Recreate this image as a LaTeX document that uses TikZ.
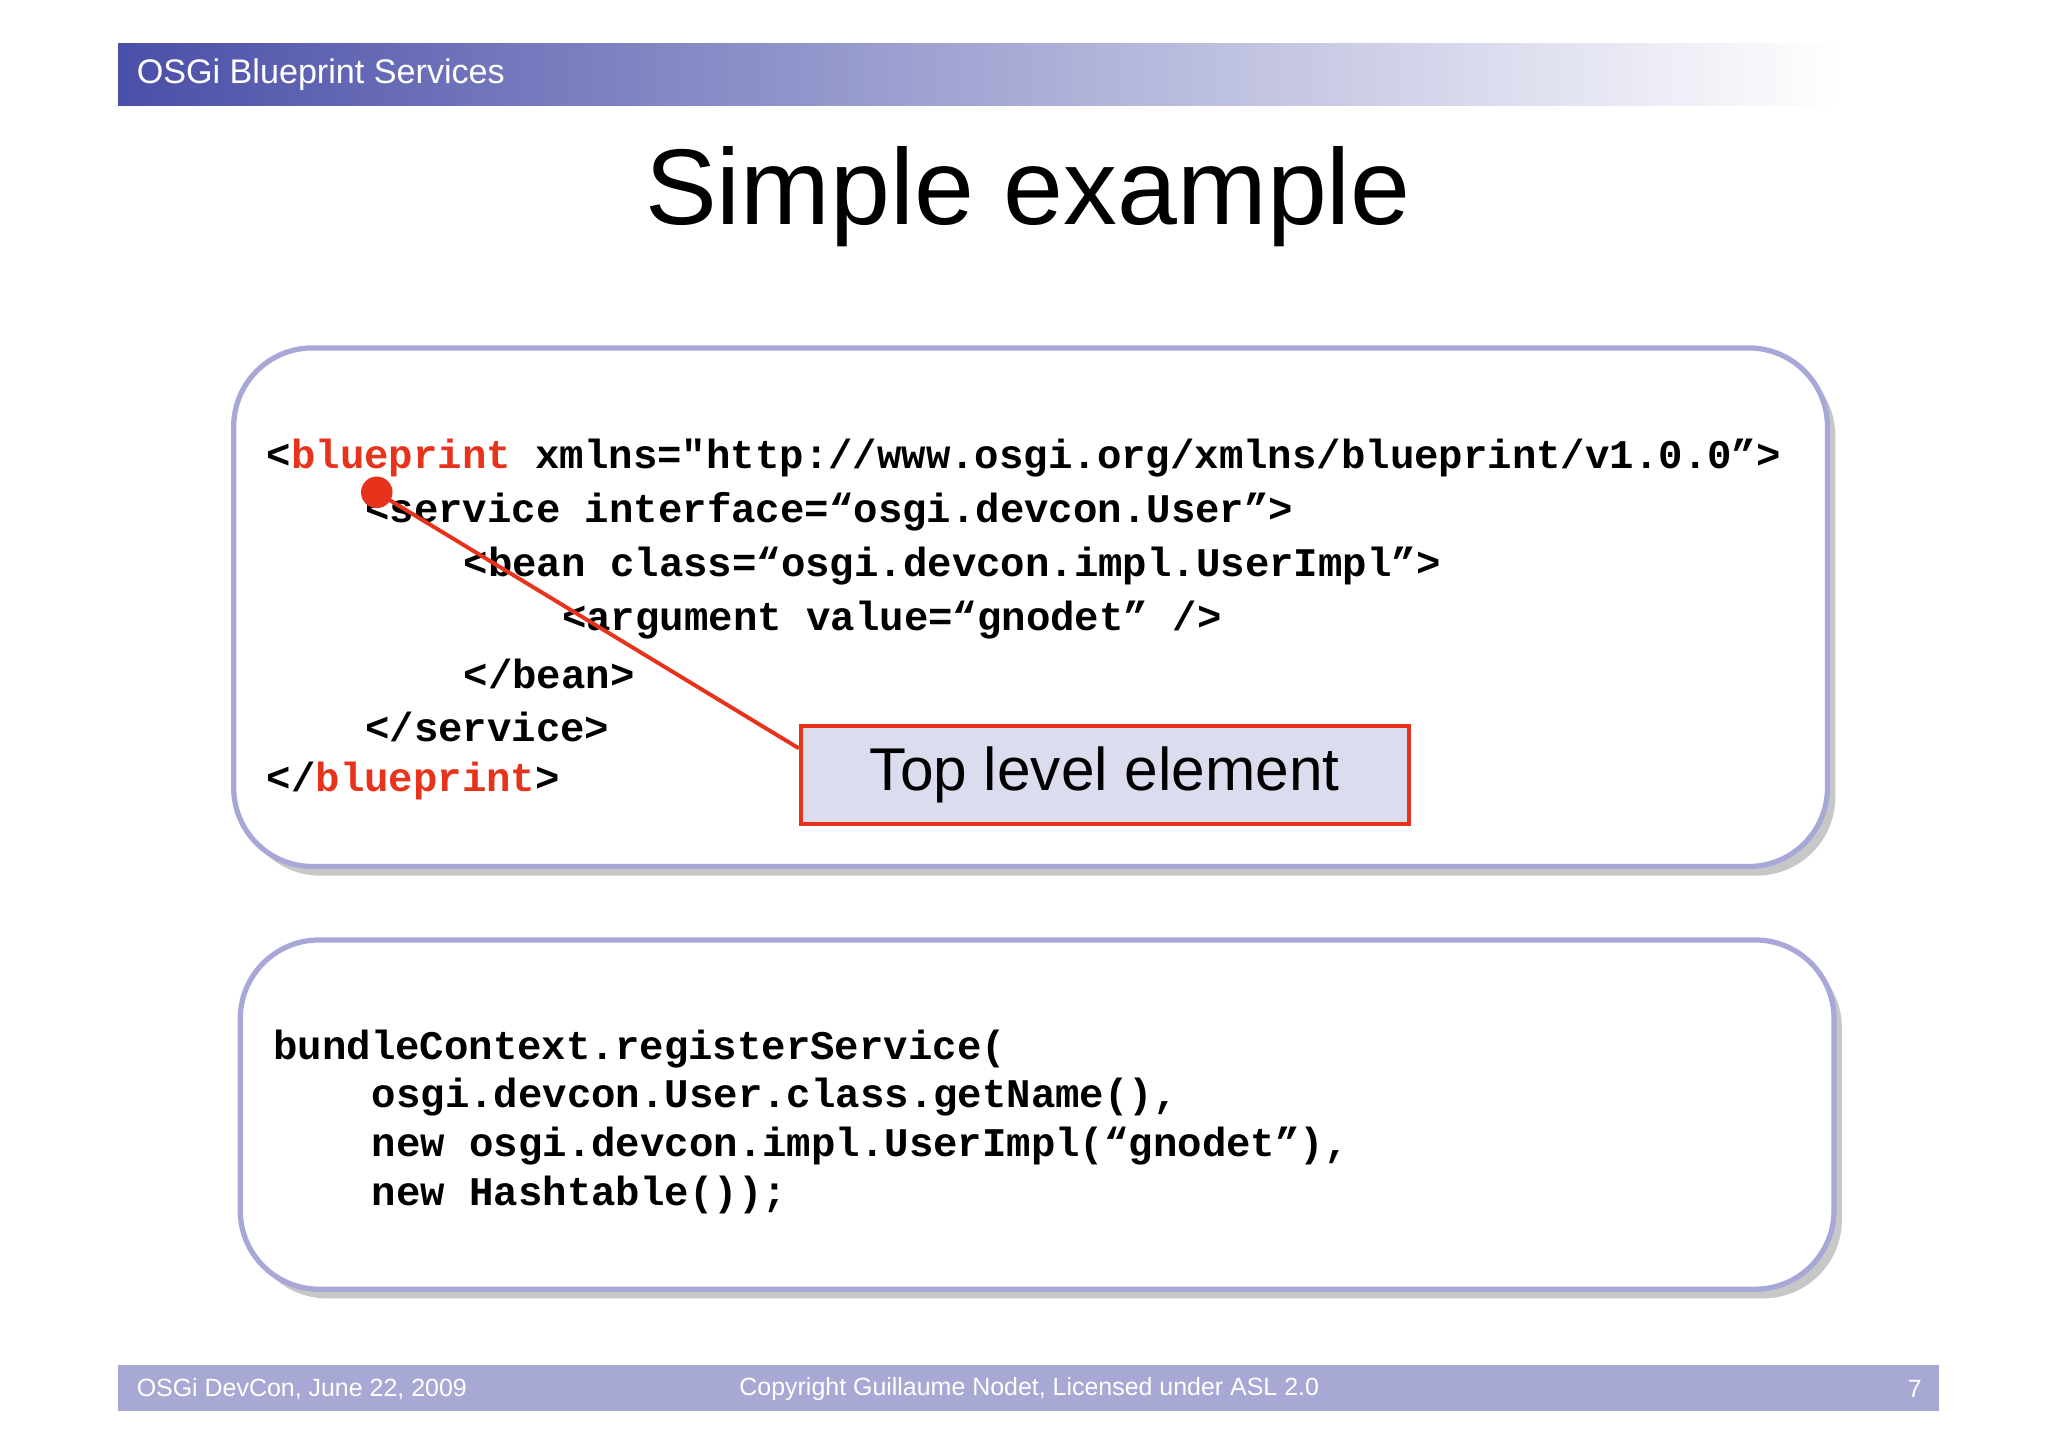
\documentclass[tikz,border=0pt]{standalone}
\usepackage{fontspec}
\setmainfont{Liberation Sans}
\newfontfamily\codefont{Liberation Mono}
\definecolor{hdr}{HTML}{4A4FA8}
\definecolor{lav}{HTML}{A8A8D8}
\definecolor{foot}{HTML}{A8A8D4}
\definecolor{redc}{HTML}{E8331C}
\definecolor{boxfill}{HTML}{DCDCEF}
\tikzset{
  codebox/.style={draw=lav,line width=4pt,rounded corners=60pt,fill=white},
  shadowbox/.style={fill=black!22,rounded corners=60pt},
  code1/.style={anchor=west,inner sep=0pt,font=\codefont\bfseries\fontsize{31}{34}\selectfont},
  code2/.style={anchor=west,inner sep=0pt,font=\codefont\bfseries\fontsize{31}{34}\selectfont},
  foottext/.style={text=white,inner sep=0pt,font=\fontsize{19}{22}\selectfont}
}
\newcommand{\rd}[1]{\textcolor{redc}{#1}}
\begin{document}
\begin{tikzpicture}[x=1pt,y=-1pt]
\useasboundingbox[fill=white] (0,0) rectangle (1560,1102);
% header
\shade[left color=hdr,right color=white] (90,33) rectangle (1400,80);
\node[anchor=west,text=white,inner sep=0pt,font=\fontsize{26}{30}\selectfont] (hdrt) at (104,57) {OSGi Blueprint Services};
% title
\node[font=\fontsize{82}{95}\selectfont,inner sep=0pt] (title) at (783,150) {Simple example};
% box 1
\fill[shadowbox] (184,272) rectangle (1398,667);
\draw[codebox] (178,265) rectangle (1392,660);
\node[code1] (l1) at (203,349) {<\rd{blueprint} xmlns="http://www.osgi.org/xmlns/blueprint/v1.0.0”>};
\node[code1] (l2) at (278,390) {<service interface=“osgi.devcon.User”>};
\node[code1] (l3) at (353,431) {<bean class=“osgi.devcon.impl.UserImpl”>};
\node[code1] (l4) at (428,472) {<argument value=“gnodet” />};
\node[code1] (l5) at (353,513) {</bean>};
\node[code1] (l6) at (278,554) {</service>};
\node[code1] (l7) at (203,595) {</\rd{blueprint}>};
\node[draw=redc,line width=3pt,fill=boxfill,minimum width=463pt,minimum height=75pt,font=\fontsize{46}{52}\selectfont] (tle) at (841.5,590.5) {Top level element};
\node[circle,fill=redc,minimum size=24pt,inner sep=0pt] (dot) at (287,375) {};
\draw[redc,line width=3pt] (dot.center) -- (tle.west |- 0,570) coordinate (le);
% box 2
\fill[shadowbox] (189,723) rectangle (1403,989);
\draw[codebox] (183,716) rectangle (1397,982);
\node[code2] (m1) at (208,799) {bundleContext.registerService(};
\node[code2] (m2) at (283,836) {osgi.devcon.User.class.getName(),};
\node[code2] (m3) at (283,873) {new osgi.devcon.impl.UserImpl(“gnodet”),};
\node[code2] (m4) at (283,910) {new Hashtable());};
% footer
\fill[foot] (90,1040) rectangle (1477,1075);
\node[foottext,anchor=west] (f1) at (104,1058) {OSGi DevCon, June 22, 2009};
\node[foottext] (f2) at (784,1058) {Copyright Guillaume Nodet, Licensed under ASL 2.0};
\node[foottext,anchor=east] (f3) at (1464,1058) {7};
\end{tikzpicture}
\end{document}
